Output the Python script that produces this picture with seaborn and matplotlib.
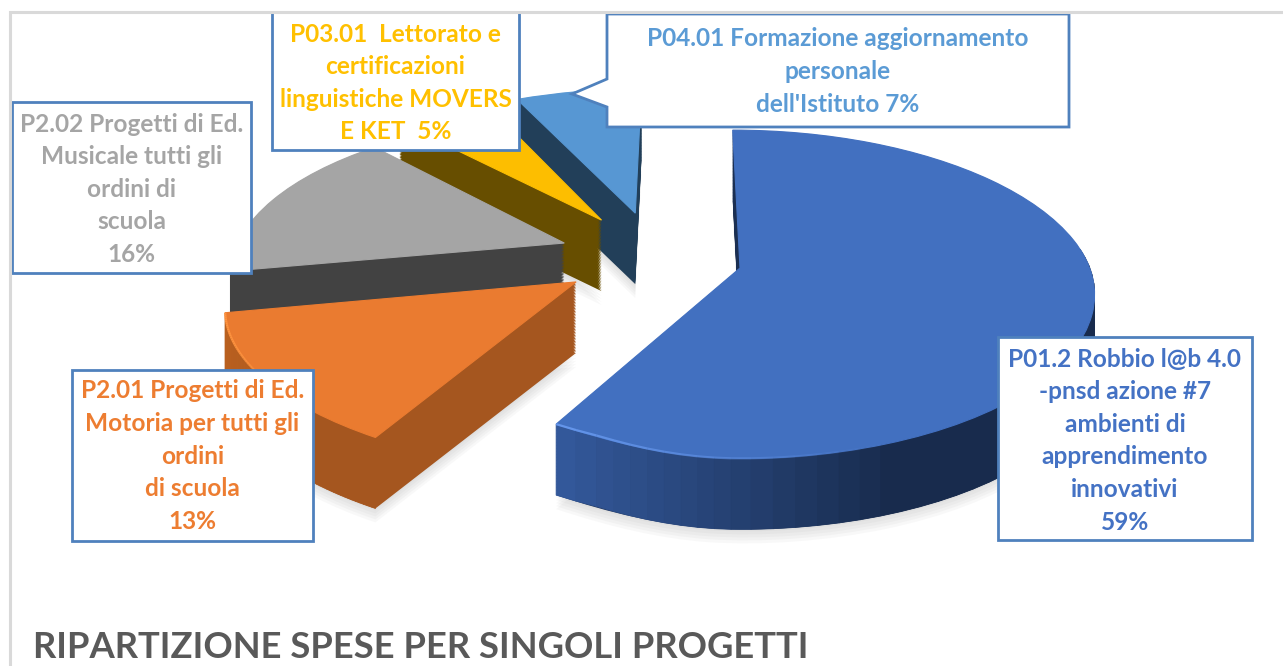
import numpy as np
import seaborn as sns
import matplotlib
matplotlib.use('Agg')
import matplotlib.pyplot as plt
from matplotlib.colors import to_rgb
from matplotlib.patches import Polygon, Rectangle
from matplotlib.transforms import Transform

# Data
projects = ['P01.2 Robbio l@b 4.0\n-pnsd azione #7\nambienti di\napprendimento\ninnovativi\n59%',
            'P2.01 Progetti di Ed.\nMotoria per tutti gli\nordini\ndi scuola\n13%',
            'P2.02 Progetti di Ed.\nMusicale tutti gli\nordini di\nscuola\n16%',
            'P03.01  Lettorato e\ncertificazioni\nlinguistiche MOVERS\nE KET  5%',
            'P04.01 Formazione aggiornamento\npersonale\ndell\'Istituto 7%']
shares = [59, 13, 16, 5, 7]
title = 'RIPARTIZIONE SPESE PER SINGOLI PROGETTI'

# Colours: top face, side face, wall at left end, wall at right end, rim highlight
top_colors = ['#4270c0', '#ea7b30', '#a5a5a5', '#fdbe00', '#5797d3']
cut_colors = ['#1b2f52', '#a5561f', '#424242', '#674e00', '#223f59']
wall_left = ['#33589a', '#b9601f', '#424242', '#674e00', '#223f59']
wall_right = ['#182b4d', '#a5561f', '#424242', '#674e00', '#223f59']
rim_colors = ['#6495ea', '#ff9440', None, None, None]
text_colors = ['#4472c4', '#ed7d31', '#a5a5a5', '#ffc000', '#5b9bd5']
box_color = '#4f81bd'

# Slice apex on the pie plane and slice radius
apex = [(2, 0), (-160, -30), (-177, 56), (-141, 110), (-106, 127)]
radius = [350, 340, 335, 360, 350]
draw_order = [4, 3, 2, 1, 0]
depth = 71

# Label placement in pixels: box left, top, right, bottom and first line y
boxes = [(998, 337, 1252, 540, 359), (72, 370, 313, 541, 391), (12, 102, 251, 273, 124),
         (272, 12, 519, 150, 34), (607, 14, 1069, 127, 39)]
line_step = 32.6


class Perspective(Transform):
    # Pie plane to pixels, z pushes the plane downwards
    input_dims = 2
    output_dims = 2
    is_separable = False
    has_inverse = False

    def __init__(self, z=0):
        super().__init__()
        self.z = z

    def transform_non_affine(self, values):
        values = np.asarray(values)
        u, v = values[:, 0], values[:, 1]
        w = 1 + 0.000457 * v
        # the back leans left, the front left corner is pulled in
        lean = -0.02 * np.clip(v, 0, None)
        pull = 0.000374 * np.clip(v, None, 0) ** 2 * np.clip(-u / 150, 0, 1)
        return np.column_stack([738 + u / w + lean + pull, 268 - 0.457 * v / w + self.z])


sns.set_theme(style='white')
plt.rcParams['font.family'] = ['Lato', 'DejaVu Sans']

fig, ax = plt.subplots(figsize=(12.83, 6.66), dpi=100)
fig.subplots_adjust(left=0, right=1, top=1, bottom=0)


def draw_slice(i, z, color, alpha=1.0):
    wedges, _ = ax.pie(shares, startangle=90, counterclock=False, radius=radius[i], center=apex[i],
                       colors=[color] * len(shares), labeldistance=None)
    for j, wedge in enumerate(wedges):
        if j == i:
            wedge.set_transform(Perspective(z) + ax.transData)
            wedge.set_alpha(alpha)
            wedge.set_linewidth(0)
            keep = wedge
        else:
            wedge.remove()
    return keep


for i in draw_order:
    # soft shadow below the slice
    for z in range(depth + 14, depth, -3):
        draw_slice(i, z, '#808080', 0.05)

    # solid body
    for z in np.arange(depth, 0, -1.5):
        body = draw_slice(i, z, cut_colors[i])

    # outer wall, shaded along the arc
    angles = np.linspace(body.theta1, body.theta2, 70)
    u = apex[i][0] + radius[i] * np.cos(np.radians(angles))
    v = apex[i][1] + radius[i] * np.sin(np.radians(angles))
    rim = np.column_stack([u, v])
    upper = Perspective(0).transform(rim)
    lower = Perspective(depth).transform(rim)
    xmin, xmax = upper[:, 0].min(), upper[:, 0].max()
    for a in range(len(rim) - 1):
        if v[a] > apex[i][1] + 40:
            continue
        t = min((upper[a, 0] - xmin) / max(0.6 * (xmax - xmin), 1), 1)
        c = np.array(to_rgb(wall_left[i])) * (1 - t) + np.array(to_rgb(wall_right[i])) * t
        ax.add_patch(Polygon([upper[a], upper[a + 1], lower[a + 1], lower[a]], closed=True,
                             facecolor=c, edgecolor=c, linewidth=0.6))

    # top face
    top = draw_slice(i, 0, top_colors[i])
    top.set_edgecolor(top_colors[i])
    top.set_linewidth(0.8)

    # light bevel on the front left of the rim
    if rim_colors[i]:
        for a in range(len(rim) - 1):
            t = (upper[a, 0] - xmin) / max(xmax - xmin, 1)
            if v[a] < apex[i][1] and t < 0.6:
                ax.plot(upper[a:a + 2, 0], upper[a:a + 2, 1], color=rim_colors[i], linewidth=1.6,
                        alpha=1 - t / 0.6, solid_capstyle='butt')

ax.set_aspect('auto')
ax.set_xlim(0, 1283)
ax.set_ylim(666, 0)
ax.set_axis_off()

# Labels
for i, (x0, y0, x1, y1, first_y) in enumerate(boxes):
    if i == 4:
        ax.add_patch(Polygon([(x0, y0), (x1, y0), (x1, y1), (x0, y1), (x0, 107), (572, 94), (x0, 79)],
                             closed=True, facecolor='white', edgecolor=box_color, linewidth=2, zorder=5))
    else:
        ax.add_patch(Rectangle((x0, y0), x1 - x0, y1 - y0, facecolor='white', edgecolor=box_color,
                               linewidth=2, zorder=5))
    for n, line in enumerate(projects[i].split('\n')):
        ax.text((x0 + x1) / 2, first_y + n * line_step, line, color=text_colors[i], fontsize=17.6,
                fontweight='bold', ha='center', va='center', zorder=6)

# Chart frame
ax.plot([10, 10, 1283], [666, 12, 12], color='#d9d9d9', linewidth=2.2, solid_joinstyle='miter', zorder=7)

ax.text(33, 647, title, color='#595959', fontsize=26.2, fontweight='bold', ha='left', va='center')

fig.savefig('out.png', dpi=100)
